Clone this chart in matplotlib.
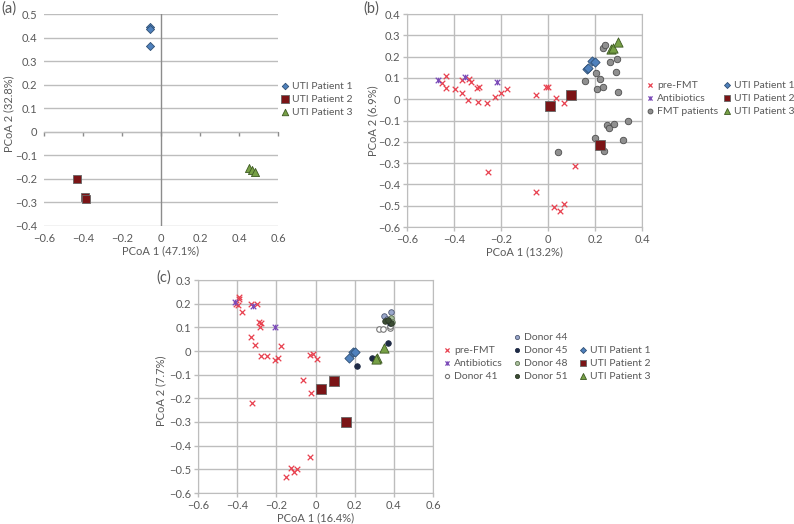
import numpy as np
import matplotlib
matplotlib.use("Agg")
import matplotlib.pyplot as plt
from matplotlib.path import Path

plt.rcParams['font.family'] = ['Lato', 'DejaVu Sans']
TXT = '#595959'
GRID = '#bdbdbd'

# ---------- data (a) ----------
a_uti1_x = [-0.058, -0.055, -0.058]
a_uti1_y = [0.443, 0.437, 0.365]
a_uti2_x = [-0.431, -0.390, -0.387]
a_uti2_y = [-0.202, -0.275, -0.287]
a_uti3_x = [0.450, 0.465, 0.480]
a_uti3_y = [-0.155, -0.164, -0.172]

# ---------- data (b) ----------
b_pre_x = [-0.436, -0.449, -0.436, -0.394, -0.364, -0.367, -0.337, -0.327, -0.341,
           -0.304, -0.293, -0.297, -0.261, -0.226, -0.200, -0.176, -0.010, -0.001,
           -0.051, 0.032, 0.070, -0.257, 0.113, -0.052, 0.024, 0.049, 0.066]
b_pre_y = [0.108, 0.074, 0.054, 0.050, 0.090, 0.030, 0.097, 0.083, -0.006,
           0.054, 0.057, -0.015, -0.018, 0.010, 0.029, 0.047, 0.057, 0.057,
           0.018, 0.005, -0.020, -0.340, -0.315, -0.435, -0.506, -0.525, -0.493]
b_abx_x = [-0.468, -0.352, -0.217]
b_abx_y = [0.090, 0.105, 0.080]
b_fmt_x = [0.158, 0.205, 0.222, 0.208, 0.235, 0.234, 0.241, 0.265, 0.293, 0.288,
           0.296, 0.340, 0.251, 0.261, 0.279, 0.318, 0.198, 0.239, 0.044]
b_fmt_y = [0.087, 0.121, 0.094, 0.050, 0.055, 0.242, 0.253, 0.173, 0.188, 0.129,
           0.032, -0.102, -0.119, -0.136, -0.117, -0.191, -0.180, -0.241, -0.249]
b_uti1_x = [0.165, 0.170, 0.187, 0.201]
b_uti1_y = [0.143, 0.148, 0.178, 0.174]
b_uti2_x = [0.098, 0.010, 0.221]
b_uti2_y = [0.021, -0.034, -0.214]
b_uti3_x = [0.268, 0.276, 0.296]
b_uti3_y = [0.236, 0.242, 0.267]

# ---------- data (c) ----------
c_pre_x = [-0.390, -0.393, -0.404, -0.398, -0.376, -0.327, -0.298, -0.291, -0.276,
           -0.282, -0.330, -0.309, -0.277, -0.247, -0.209, -0.189, -0.175, -0.028,
           -0.015, 0.008, -0.064, -0.025, -0.322, -0.026, -0.124, -0.108, -0.093, -0.151]
c_pre_y = [0.230, 0.220, 0.197, 0.193, 0.166, 0.200, 0.200, 0.124, 0.120,
           0.103, 0.061, 0.025, -0.022, -0.022, -0.038, -0.029, 0.023, -0.019,
           -0.013, -0.032, -0.122, -0.178, -0.218, -0.448, -0.496, -0.510, -0.497, -0.531]
c_abx_x = [-0.412, -0.317, -0.207]
c_abx_y = [0.207, 0.190, 0.103]
c_d41_x = [0.322, 0.344, 0.378, 0.380]
c_d41_y = [0.092, 0.092, 0.096, 0.105]
c_d44_x = [0.350, 0.385, 0.365]
c_d44_y = [0.150, 0.165, 0.135]
c_d45_x = [0.371, 0.289, 0.211, 0.378]
c_d45_y = [0.034, -0.028, -0.063, 0.118]
c_d48_x = [0.387, 0.390]
c_d48_y = [0.138, 0.124]
c_d51_x = [0.356, 0.385, 0.370]
c_d51_y = [0.127, 0.117, 0.130]
c_uti1_x = [0.172, 0.194, 0.204]
c_uti1_y = [-0.031, -0.005, -0.004]
c_uti2_x = [0.030, 0.095, 0.155]
c_uti2_y = [-0.160, -0.125, -0.298]
c_uti3_x = [0.312, 0.351, 0.308]
c_uti3_y = [-0.028, 0.014, -0.033]

# Excel-like "star" marker: x with a vertical bar
star = Path([(-1, -1), (1, 1), (-1, 1), (1, -1), (0, -1), (0, 1)],
            [Path.MOVETO, Path.LINETO, Path.MOVETO, Path.LINETO, Path.MOVETO, Path.LINETO])

RED = '#e8414f'
PURP = '#7b4bb8'
BLUE = '#4f81bd'
DRED = '#7b1416'
GREEN = '#77a046'

fig = plt.figure(figsize=(7.94, 5.24), dpi=100)
W, H = 794, 524

def px_axes(l, t, r, b):
    return fig.add_axes([l / W, 1 - b / H, (r - l) / W, (b - t) / H])

def style_box(ax):
    ax.grid(True, color=GRID, lw=1)
    ax.set_axisbelow(True)
    for s in ax.spines.values():
        s.set_color(GRID)
    ax.tick_params(colors=TXT, labelsize=8, length=3, width=1, pad=2)
    ax.tick_params(axis='both', color=GRID)

def uti(ax, x1, y1, x2, y2, x3, y3, big=False):
    k = 1.3 if big else 1.0
    h1 = ax.scatter(x1, y1, marker='D', s=17 * k, c=BLUE, edgecolors='#2f4f73', lw=0.6, zorder=4, label='UTI Patient 1')
    h2 = ax.scatter(x2, y2, marker='s', s=40 * k, c=DRED, edgecolors='#666666', lw=0.6, zorder=5, label='UTI Patient 2')
    h3 = ax.scatter(x3, y3, marker='^', s=34 * k, c=GREEN, edgecolors='#3d5a22', lw=0.6, zorder=5, label='UTI Patient 3')
    return [h1, h2, h3]

def leg(handles, x, y, scale=0.75):
    fig.legend(handles=handles, loc='center left', bbox_to_anchor=(x / W, 1 - y / H),
               frameon=False, fontsize=7.5, handlelength=0.7, handletextpad=0.35,
               borderpad=0, borderaxespad=0, labelspacing=0.36,
               labelcolor=TXT, markerscale=scale)

# ---------- panel (a) ----------
ax = px_axes(44, 14, 278, 226)
ax.set_xlim(-0.6, 0.6)
ax.set_ylim(-0.4, 0.5)
ax.set_xticks(np.arange(-0.6, 0.61, 0.2))
ax.set_yticks(np.arange(-0.4, 0.51, 0.1))
ax.set_xticklabels(['\u22120.6', '\u22120.4', '\u22120.2', '0', '0.2', '0.4', '0.6'])
ax.set_yticklabels(['\u22120.4', '\u22120.3', '\u22120.2', '\u22120.1', '0', '0.1', '0.2', '0.3', '0.4', '0.5'])
ax.grid(True, axis='y', color=GRID, lw=1)
ax.set_axisbelow(True)
for s in ax.spines.values():
    s.set_visible(False)
ax.tick_params(colors=TXT, labelsize=8, length=0, pad=5)
ax.axvline(0, color='#8c8c8c', lw=1, zorder=1)
sec = ax.secondary_xaxis(0, transform=ax.transData)
sec.set_xticks(np.arange(-0.6, 0.61, 0.2))
sec.tick_params(labelbottom=False, length=3, color='#8c8c8c', width=1)
sec.spines['bottom'].set_color('#8c8c8c')
ha = uti(ax, a_uti1_x, a_uti1_y, a_uti2_x, a_uti2_y, a_uti3_x, a_uti3_y)
ax.set_xlabel('PCoA 1 (47.1%)', color=TXT, fontsize=8)
ax.set_ylabel('PCoA 2 (32.8%)', color=TXT, fontsize=8)
ax.xaxis.set_label_coords(0.5, -25 / 212)
ax.xaxis.label.set_va('center')
ax.yaxis.set_label_coords(-0.15, 0.53)
ax.yaxis.label.set_va('center')
leg(ha, 281, 99, scale=0.8)
fig.text(1 / W, 1 - 9 / H, '(a)', fontsize=10.5, color=TXT, va='center', ha='left')

# ---------- panel (b) ----------
ax = px_axes(407, 14, 642, 227)
ax.set_xlim(-0.6, 0.4)
ax.set_ylim(-0.6, 0.4)
ax.set_xticks(np.arange(-0.6, 0.41, 0.2))
ax.set_yticks(np.arange(-0.6, 0.41, 0.1))
ax.set_xticklabels(['\u22120.6', '\u22120.4', '\u22120.2', '0', '0.2', '0.4'])
ax.set_yticklabels(['\u22120.6', '\u22120.5', '\u22120.4', '\u22120.3', '\u22120.2', '\u22120.1',
                    '0', '0.1', '0.2', '0.3', '0.4'])
style_box(ax)
hp = ax.scatter(b_pre_x, b_pre_y, marker='x', s=16, c=RED, lw=0.9, zorder=3, label='pre-FMT')
hb = ax.scatter(b_abx_x, b_abx_y, marker=star, s=16, c=PURP, lw=0.9, zorder=3, label='Antibiotics')
hf = ax.scatter(b_fmt_x, b_fmt_y, marker='o', s=22, c='#8f8f8f', edgecolors='#4d4d4d', lw=0.6, zorder=3, label='FMT patients')
hu = uti(ax, b_uti1_x, b_uti1_y, b_uti2_x, b_uti2_y, b_uti3_x, b_uti3_y, big=True)
ax.set_xlabel('PCoA 1 (13.2%)', color=TXT, fontsize=8)
ax.set_ylabel('PCoA 2 (6.9%)', color=TXT, fontsize=8)
ax.xaxis.set_label_coords(0.5, -25 / 213)
ax.xaxis.label.set_va('center')
ax.yaxis.set_label_coords(-0.145, 0.5)
ax.yaxis.label.set_va('center')
leg([hp, hb, hf], 646, 98)
leg(hu, 723, 98, scale=0.65)
fig.text(363 / W, 1 - 9 / H, '(b)', fontsize=10.5, color=TXT, va='center', ha='left')

# ---------- panel (c) ----------
ax = px_axes(198, 280, 433, 493)
ax.set_xlim(-0.6, 0.6)
ax.set_ylim(-0.6, 0.3)
ax.set_xticks(np.arange(-0.6, 0.61, 0.2))
ax.set_yticks(np.arange(-0.6, 0.31, 0.1))
ax.set_xticklabels(['\u22120.6', '\u22120.4', '\u22120.2', '0', '0.2', '0.4', '0.6'])
ax.set_yticklabels(['\u22120.6', '\u22120.5', '\u22120.4', '\u22120.3', '\u22120.2', '\u22120.1',
                    '0', '0.1', '0.2', '0.3'])
style_box(ax)
cp = ax.scatter(c_pre_x, c_pre_y, marker='x', s=16, c=RED, lw=0.9, zorder=3, label='pre-FMT')
cb = ax.scatter(c_abx_x, c_abx_y, marker=star, s=16, c=PURP, lw=0.9, zorder=3, label='Antibiotics')
c41 = ax.scatter(c_d41_x, c_d41_y, marker='o', s=16, facecolors='white', edgecolors='#777777', lw=0.8, zorder=3, label='Donor 41')
c44 = ax.scatter(c_d44_x, c_d44_y, marker='o', s=16, c='#9aa8cc', edgecolors='#4d5670', lw=0.6, zorder=3, label='Donor 44')
c45 = ax.scatter(c_d45_x, c_d45_y, marker='o', s=16, c='#1e2a45', edgecolors='#1e2a45', lw=0.6, zorder=3, label='Donor 45')
c48 = ax.scatter(c_d48_x, c_d48_y, marker='o', s=16, c='#a9c09c', edgecolors='#5f7354', lw=0.6, zorder=3, label='Donor 48')
c51 = ax.scatter(c_d51_x, c_d51_y, marker='o', s=16, c='#3c4d34', edgecolors='#2b3826', lw=0.6, zorder=3, label='Donor 51')
cu = uti(ax, c_uti1_x, c_uti1_y, c_uti2_x, c_uti2_y, c_uti3_x, c_uti3_y, big=True)
ax.set_xlabel('PCoA 1 (16.4%)', color=TXT, fontsize=8)
ax.set_ylabel('PCoA 2 (7.7%)', color=TXT, fontsize=8)
ax.xaxis.set_label_coords(0.5, -25 / 213)
ax.xaxis.label.set_va('center')
ax.yaxis.set_label_coords(-0.16, 0.48)
ax.yaxis.label.set_va('center')
leg([cp, cb, c41], 443, 363)
leg([c44, c45, c48, c51], 513, 356.5)
leg(cu, 579, 363, scale=0.65)
fig.text(156 / W, 1 - 278 / H, '(c)', fontsize=10.5, color=TXT, va='center', ha='left')

fig.savefig('out.png', dpi=100)
